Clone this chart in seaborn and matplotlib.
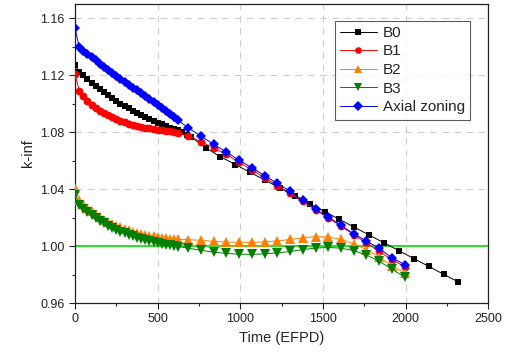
import numpy as np
import pandas as pd
import matplotlib
matplotlib.use("Agg")
import matplotlib.pyplot as plt
import matplotlib.colors as mcolors
import seaborn as sns
from matplotlib.ticker import MultipleLocator

# burnup steps (EFPD)
t_dense = list(np.arange(0, 626, 25))            # 0 ... 625
t_sparse = list(np.arange(685, 2000, 77))        # 685 ... 1994
t_b0_dense = list(np.arange(0, 701, 25))         # 0 ... 700
t_b0_sparse = list(np.arange(790, 2321, 90))     # 790 ... 2320

b0_vals = [1.127, 1.1225, 1.1198, 1.1172, 1.1147, 1.1123, 1.1100, 1.1078, 1.1057,
           1.1037, 1.1018, 1.1000, 1.0983, 1.0967, 1.0951, 1.0936, 1.0921, 1.0907,
           1.0893, 1.0880, 1.0867, 1.0855, 1.0843, 1.0832, 1.0822, 1.0812, 1.0798,
           1.0783, 1.0768,
           1.0690, 1.0627, 1.0572, 1.0517, 1.0462, 1.0407, 1.0352, 1.0297, 1.0242,
           1.0187, 1.0132, 1.0077, 1.0022, 0.9967, 0.9912, 0.9857, 0.9802, 0.9747]

b1_vals = [1.121, 1.109, 1.105, 1.1018, 1.0992, 1.0970, 1.0950, 1.0933, 1.0917,
           1.0903, 1.0890, 1.0879, 1.0869, 1.0860, 1.0852, 1.0845, 1.0838, 1.0832,
           1.0827, 1.0822, 1.0818, 1.0814, 1.0810, 1.0806, 1.0802, 1.0797,
           1.0775, 1.0732, 1.0690, 1.0643, 1.0588, 1.0535, 1.0480, 1.0425, 1.0370,
           1.0313, 1.0255, 1.0198, 1.0140, 1.0080, 1.0020, 0.9963, 0.9905, 0.9855]

b2_vals = [1.041, 1.032, 1.0292, 1.0266, 1.0243, 1.0222, 1.0203, 1.0186, 1.0170,
           1.0156, 1.0143, 1.0131, 1.0120, 1.0110, 1.0101, 1.0093, 1.0086, 1.0079,
           1.0073, 1.0068, 1.0063, 1.0059, 1.0055, 1.0052, 1.0049, 1.0046,
           1.0045, 1.0040, 1.0033, 1.0028, 1.0026, 1.0026, 1.0029, 1.0036, 1.0046,
           1.0058, 1.0066, 1.0064, 1.0047, 1.0016, 0.9975, 0.9922, 0.9862, 0.9810]

b3_vals = [1.036, 1.029, 1.0262, 1.0237, 1.0215, 1.0195, 1.0177, 1.0160, 1.0144,
           1.0129, 1.0115, 1.0102, 1.0090, 1.0079, 1.0068, 1.0058, 1.0049, 1.0041,
           1.0033, 1.0026, 1.0020, 1.0014, 1.0009, 1.0004, 1.0000, 0.9996,
           0.9985, 0.9970, 0.9957, 0.9948, 0.9943, 0.9942, 0.9945, 0.9952, 0.9962,
           0.9975, 0.9986, 0.9990, 0.9985, 0.9968, 0.9937, 0.9893, 0.9838, 0.9782]

axial_vals = [1.153, 1.140, 1.1372, 1.1348, 1.1325, 1.1303, 1.1281, 1.1260, 1.1239,
              1.1218, 1.1197, 1.1176, 1.1155, 1.1134, 1.1113, 1.1092, 1.1071, 1.1050,
              1.1029, 1.1008, 1.0987, 1.0966, 1.0945, 1.0924, 1.0903, 1.0882,
              1.0830, 1.0772, 1.0714, 1.0660, 1.0603, 1.0550, 1.0495, 1.0440, 1.0386,
              1.0320, 1.0258, 1.0204, 1.0145, 1.0086, 1.0035, 0.9984, 0.9918, 0.9870]

cases = ["B0", "B1", "B2", "B3", "Axial zoning"]
colors = ["#000000", "#ff0000", "#ff8000", "#007f00", "#0000ff"]
marks = ["s", "o", "^", "v", "D"]
msizes = [5.0, 5.6, 7.0, 7.0, 5.4]

frames = [
    pd.DataFrame({"t": t_b0_dense + t_b0_sparse, "k": b0_vals, "case": "B0"}),
    pd.DataFrame({"t": t_dense + t_sparse, "k": b1_vals, "case": "B1"}),
    pd.DataFrame({"t": t_dense + t_sparse, "k": b2_vals, "case": "B2"}),
    pd.DataFrame({"t": t_dense + t_sparse, "k": b3_vals, "case": "B3"}),
    pd.DataFrame({"t": t_dense + t_sparse, "k": axial_vals, "case": "Axial zoning"}),
]
df = pd.concat(frames, ignore_index=True)

sns.set_style("ticks")
plt.rcParams["font.family"] = ["Liberation Sans", "DejaVu Sans"]

fig = plt.figure(figsize=(5.07, 3.54), dpi=100)
ax = fig.add_axes([0.148, 0.144, 0.815, 0.845])

sns.lineplot(data=df, x="t", y="k", hue="case", style="case",
             hue_order=cases, style_order=cases,
             palette=dict(zip(cases, colors)),
             markers=dict(zip(cases, marks)), dashes=False,
             estimator=None, sort=False,
             linewidth=0.7, markeredgewidth=0, ax=ax, zorder=3)

# per-series marker size, matched by colour (triangles look smaller at equal size)
size_by_color = {c: m for c, m in zip(colors, msizes)}
for ln in ax.lines:
    c = mcolors.to_hex(ln.get_color())
    if c in size_by_color:
        ln.set_markersize(size_by_color[c])

ax.axhline(1.0, color="#33dd33", lw=1.5, zorder=1.5)

ax.set_xlim(0, 2500)
ax.set_ylim(0.96, 1.17)
ax.xaxis.set_major_locator(MultipleLocator(500))
ax.xaxis.set_minor_locator(MultipleLocator(250))
ax.yaxis.set_major_locator(MultipleLocator(0.04))
ax.yaxis.set_minor_locator(MultipleLocator(0.02))
ax.yaxis.set_major_formatter(matplotlib.ticker.FormatStrFormatter("%.2f"))
ax.tick_params(which="major", direction="out", length=4, width=0.8, labelsize=9, colors="#222222")
ax.tick_params(which="minor", direction="out", length=2.5, width=0.8)
ax.grid(True, which="major", ls=(0, (6, 5)), color="#cfcfcf", lw=0.8)
ax.set_axisbelow(True)
for s in ax.spines.values():
    s.set_color("#222222")
    s.set_linewidth(0.9)

ax.set_xlabel("Time (EFPD)", fontsize=10.5)
ax.set_ylabel("k-inf", fontsize=10.5)

leg = ax.legend(loc="upper right", bbox_to_anchor=(0.975, 0.97), fontsize=11,
                frameon=True, fancybox=False, edgecolor="#333333",
                handlelength=2.4, borderpad=0.35, labelspacing=0.3, handletextpad=0.4)
leg.get_frame().set_linewidth(0.8)
for h, m in zip(leg.legend_handles, msizes):
    h.set_markersize(m * 0.85)

fig.savefig("out.png", dpi=100)
